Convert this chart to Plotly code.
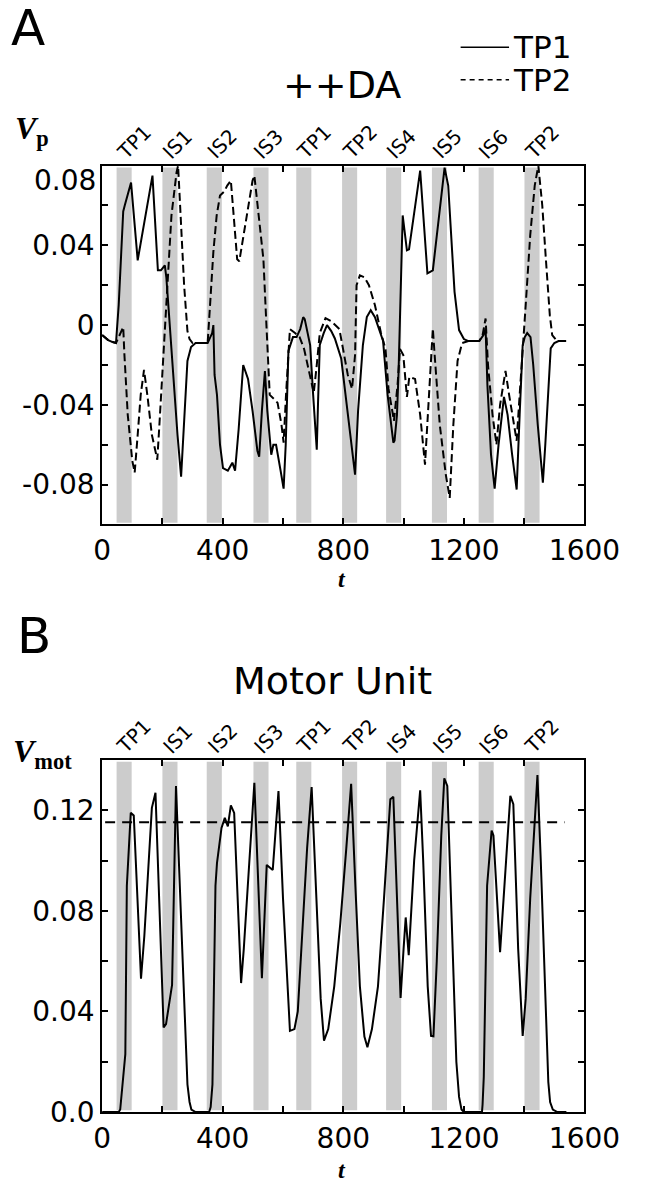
import plotly.graph_objects as go

# ---------------- data ----------------
band_starts = [48, 200, 347, 502, 644, 796, 942, 1094, 1249, 1401]
band_width = 50
band_labels = ["TP1", "IS1", "IS2", "IS3", "TP1", "TP2", "IS4", "IS5", "IS6", "TP2"]

tp1_t = [0, 20, 35, 46, 55, 62, 70, 75, 96, 118, 167, 185, 195, 208, 213, 222, 235, 250, 262,
         272, 283, 295, 310, 350, 365, 369, 373, 381, 391, 401, 417, 432, 441, 453, 468, 484,
         499, 515, 521, 530, 540, 548, 561, 568, 577, 592, 602, 609, 618, 633, 645, 657, 667,
         672, 690, 700, 712, 716, 722, 735, 746, 760, 772, 793, 813, 839, 849, 865, 878, 891,
         905, 932, 947, 966, 970, 978, 983, 988, 997, 1011, 1018, 1055, 1079, 1097, 1133,
         1136, 1148, 1160, 1169, 1184, 1200, 1215, 1251, 1265, 1272, 1278, 1290, 1302, 1315,
         1333, 1345, 1360, 1375, 1385, 1395, 1402, 1410, 1421, 1430, 1445, 1462, 1470, 1480,
         1488, 1500, 1514, 1539]
tp1_v = [-0.005, -0.0075, -0.0085, -0.009, 0.01, 0.034, 0.057, 0.060, 0.0715, 0.0325, 0.075,
         0.0275, 0.0275, 0.030, 0.024, 0.005, -0.025, -0.055, -0.076, -0.045, -0.018, -0.011,
         -0.009, -0.009, -0.004, 0.0, -0.025, -0.035, -0.060, -0.0717, -0.073, -0.069, -0.073,
         -0.052, -0.020, -0.027, -0.043, -0.063, -0.066, -0.043, -0.023, -0.043, -0.065, -0.060,
         -0.060, -0.073, -0.082, -0.060, -0.013, -0.006, -0.006, -0.002, 0.004, 0.003, -0.010,
         -0.035, -0.0625, -0.040, -0.010, -0.004, 0.0, -0.003, -0.0067, -0.0167, -0.043, -0.075,
         -0.043, -0.010, 0.004, 0.0075, 0.004, -0.008, -0.035, -0.059, -0.058, -0.045, -0.025,
         0.0, 0.055, 0.0375, 0.038, 0.0775, 0.026, 0.0275, 0.0775, 0.079, 0.070, 0.040, 0.0167,
         -0.0025, -0.007, -0.008, -0.008, -0.005, -0.0017, -0.030, -0.065, -0.082, -0.060,
         -0.036, -0.045, -0.065, -0.0825, -0.045, -0.010, -0.006, -0.004, -0.006, -0.020,
         -0.050, -0.079, -0.060, -0.030, -0.0117, -0.009, -0.008, -0.008]

tp2_t = [0, 20, 35, 46, 55, 65, 70, 74, 85, 100, 108, 118, 128, 139, 150, 165, 178, 183, 190,
         204, 215, 230, 247, 252, 262, 272, 283, 290, 300, 310, 350, 358, 369, 380, 391, 405,
         415, 427, 448, 455, 480, 499, 505, 520, 535, 545, 553, 556, 570, 582, 595, 602, 610,
         618, 623, 640, 655, 670, 690, 702, 712, 722, 741, 760, 787, 800, 815, 829, 839, 844,
         855, 870, 885, 905, 925, 940, 950, 968, 980, 988, 999, 1011, 1019, 1038, 1055, 1071,
         1082, 1093, 1097, 1103, 1120, 1140, 1153, 1165, 1179, 1194, 1215, 1251, 1262, 1272,
         1280, 1295, 1308, 1320, 1338, 1350, 1365, 1375, 1385, 1395, 1405, 1420, 1435, 1447,
         1460, 1472, 1485, 1493, 1509, 1539]
tp2_v = [-0.005, -0.0075, -0.0085, -0.009, -0.006, -0.003, -0.001, -0.015, -0.045, -0.068,
         -0.074, -0.055, -0.035, -0.0225, -0.035, -0.055, -0.065, -0.0675, -0.050, -0.013,
         0.020, 0.055, 0.0767, 0.080, 0.050, 0.020, -0.003, -0.007, -0.009, -0.009, -0.009,
         0.010, 0.0367, 0.055, 0.065, 0.067, 0.070, 0.0725, 0.033, 0.032, 0.055, 0.0725, 0.075,
         0.055, 0.033, 0.0, -0.025, -0.035, -0.037, -0.039, -0.050, -0.059, -0.035, -0.010,
         -0.002, -0.004, -0.006, -0.012, -0.025, -0.034, -0.020, -0.004, 0.0035, 0.002, -0.002,
         -0.012, -0.025, -0.032, -0.015, 0.020, 0.025, 0.024, 0.020, 0.010, -0.004, -0.012,
         -0.032, -0.048, -0.030, -0.012, -0.015, -0.036, -0.026, -0.027, -0.045, -0.070,
         -0.040, -0.013, -0.0017, -0.015, -0.050, -0.075, -0.0867, -0.050, -0.018, -0.009,
         -0.008, -0.008, -0.005, 0.0033, -0.020, -0.045, -0.060, -0.040, -0.023, -0.035, -0.050,
         -0.058, -0.035, -0.010, 0.010, 0.045, 0.070, 0.080, 0.060, 0.033, 0.005, -0.005,
         -0.008, -0.008]

mot_t = [0, 55, 60, 67, 77, 82, 90, 95, 105, 115, 129, 140, 155, 165, 177, 190, 204, 212, 232,
         245, 255, 270, 283, 290, 296, 310, 355, 360, 366, 376, 381, 396, 407, 417, 427, 438,
         450, 461, 470, 485, 505, 515, 530, 546, 566, 585, 600, 623, 638, 649, 665, 680, 695,
         710, 725, 736, 750, 770, 790, 810, 826, 840, 855, 870, 880, 895, 915, 935, 956, 966,
         978, 990, 1000, 1007, 1017, 1035, 1055, 1065, 1080, 1091, 1099, 1110, 1125, 1135,
         1145, 1160, 1175, 1184, 1192, 1200, 1260, 1262, 1266, 1277, 1292, 1298, 1310, 1320,
         1340, 1354, 1364, 1380, 1395, 1405, 1420, 1444, 1455, 1470, 1480, 1486, 1495, 1510,
         1540]
mot_v = [0.0, 0.0, 0.001, 0.011, 0.023, 0.090, 0.112, 0.119, 0.118, 0.090, 0.053, 0.070,
         0.100, 0.121, 0.127, 0.080, 0.0336, 0.035, 0.0506, 0.1297, 0.100, 0.050, 0.011, 0.004,
         0.001, 0.0, 0.0, 0.002, 0.011, 0.090, 0.099, 0.113, 0.117, 0.1136, 0.122, 0.119, 0.085,
         0.0513, 0.065, 0.095, 0.131, 0.100, 0.0532, 0.0983, 0.0963, 0.1277, 0.085, 0.0323,
         0.033, 0.040, 0.075, 0.105, 0.1293, 0.090, 0.045, 0.0284, 0.033, 0.050, 0.075, 0.105,
         0.1306, 0.090, 0.050, 0.030, 0.0258, 0.033, 0.050, 0.085, 0.1244, 0.1254, 0.085,
         0.0454, 0.065, 0.0774, 0.0624, 0.100, 0.128, 0.100, 0.050, 0.0303, 0.0301, 0.060,
         0.110, 0.1327, 0.1297, 0.070, 0.020, 0.006, 0.001, 0.0, 0.0, 0.003, 0.014, 0.090,
         0.112, 0.110, 0.085, 0.0636, 0.100, 0.1258, 0.1225, 0.065, 0.0303, 0.045, 0.085,
         0.134, 0.100, 0.045, 0.012, 0.004, 0.001, 0.0, 0.0]

threshold_t = [10, 1534]
threshold_v = [0.1153, 0.1153]

x_ticks = [0, 400, 800, 1200, 1600]
x_minor = [200, 600, 1000, 1400]
yA_ticks = [0.08, 0.04, 0, -0.04, -0.08]
yA_text = ["", "0.04", "0", "-0.04", "-0.08"]   # "0.08" is drawn slightly lower, as in the original
yA_minor = [0.06, 0.02, -0.02, -0.06]
yB_ticks = [0, 0.04, 0.08, 0.12]
yB_text = ["0.0", "0.04", "0.08", "0.12"]
yB_minor = [0.02, 0.06, 0.10]

# ---------------- figure ----------------
W, H = 654, 1200
SANS = "DejaVu Sans, Liberation Sans, Arial, sans-serif"
SERIF = "Liberation Serif, Times New Roman, serif"
TICK = 28

fig = go.Figure()
fig.add_trace(go.Scatter(x=tp1_t, y=tp1_v, mode="lines", line=dict(color="black", width=2),
                         xaxis="x", yaxis="y", showlegend=False, name="TP1"))
fig.add_trace(go.Scatter(x=tp2_t, y=tp2_v, mode="lines",
                         line=dict(color="black", width=2, dash="8px,4px"),
                         xaxis="x", yaxis="y", showlegend=False, name="TP2"))
fig.add_trace(go.Scatter(x=mot_t, y=mot_v, mode="lines", line=dict(color="black", width=2),
                         xaxis="x2", yaxis="y2", showlegend=False))
fig.add_trace(go.Scatter(x=threshold_t, y=threshold_v, mode="lines",
                         line=dict(color="black", width=2, dash="10px,7px"),
                         xaxis="x2", yaxis="y2", showlegend=False))

shapes = []
for xr, yr in (("x", "y domain"), ("x2", "y2 domain")):
    for s in band_starts:
        shapes.append(dict(type="rect", xref=xr, yref=yr, x0=s, x1=s + band_width,
                           y0=0.005, y1=0.995, fillcolor="#cccccc", line=dict(width=0),
                           layer="below"))
# legend samples
shapes.append(dict(type="line", xref="paper", yref="paper", x0=485 / W, x1=537 / W,
                   y0=1 - 48 / H, y1=1 - 48 / H, line=dict(color="black", width=1.5)))
shapes.append(dict(type="line", xref="paper", yref="paper", x0=485 / W, x1=537 / W,
                   y0=1 - 81 / H, y1=1 - 81 / H,
                   line=dict(color="black", width=1.5, dash="5px,4px")))

ann = []
for xr, yr in (("x", "y domain"), ("x2", "y2 domain")):
    for s, lab in zip(band_starts, band_labels):
        ann.append(dict(x=s, y=1, xref=xr, yref=yr, text=lab, showarrow=False,
                        textangle=-45, xanchor="left", yanchor="bottom", xshift=-7, yshift=-1,
                        font=dict(family=SANS, size=20, color="black")))


def txt(text, x, y, size, family=SANS, xa="left", ya="middle"):
    ann.append(dict(x=x / W, y=1 - y / H, xref="paper", yref="paper", text=text,
                    showarrow=False, xanchor=xa, yanchor=ya,
                    font=dict(family=family, size=size, color="black")))


txt("A", 0, 28, 50)
txt("B", 6, 645, 50)
txt("++DA", 358, 86, 38, xa="center")
txt("Motor Unit", 347, 691, 38, xa="center")
txt("TP1", 539, 48, 31)
txt("TP2", 539, 81, 31)
txt("0.08", 96, 183, TICK, xa="right")
txt("<b><i>V</i></b><b><sub>p</sub></b>", 4, 132, 32, family=SERIF)
txt("<b><i>V</i></b><b><sub>mot</sub></b>", 2, 764, 32, family=SERIF)
txt("<b><i>t</i></b>", 358, 587, 24, family=SERIF, xa="center")
txt("<b><i>t</i></b>", 358, 1187, 24, family=SERIF, xa="center")

axis_common = dict(showline=True, linecolor="black", linewidth=2, mirror="allticks",
                   ticks="inside", ticklen=6, tickwidth=1.5, tickcolor="black",
                   showgrid=False, zeroline=False,
                   tickfont=dict(family=SANS, size=TICK, color="black"))
minor_common = dict(tickmode="array", ticks="inside", ticklen=6, tickwidth=1.5,
                    tickcolor="black")

xdom = [100 / W, 618 / W]
fig.update_layout(
    width=W, height=H, margin=dict(l=0, r=0, t=0, b=0),
    paper_bgcolor="white", plot_bgcolor="white", showlegend=False,
    shapes=shapes, annotations=ann,
    xaxis=dict(domain=xdom, range=[0, 1600], anchor="y", tickmode="array", tickvals=x_ticks,
               minor=dict(tickvals=x_minor, **minor_common), **axis_common),
    yaxis=dict(domain=[1 - 532 / H, 1 - 168 / H], range=[-0.1, 0.08], anchor="x",
               tickmode="array", tickvals=yA_ticks, ticktext=yA_text,
               minor=dict(tickvals=yA_minor, **minor_common), **axis_common),
    xaxis2=dict(domain=xdom, range=[0, 1600], anchor="y2", tickmode="array", tickvals=x_ticks,
                minor=dict(tickvals=x_minor, **minor_common), **axis_common),
    yaxis2=dict(domain=[1 - 1128 / H, 1 - 771 / H], range=[0, 0.14], anchor="x2",
                tickmode="array", tickvals=yB_ticks, ticktext=yB_text,
                minor=dict(tickvals=yB_minor, **minor_common), **axis_common),
)

fig.write_html("out.html")
